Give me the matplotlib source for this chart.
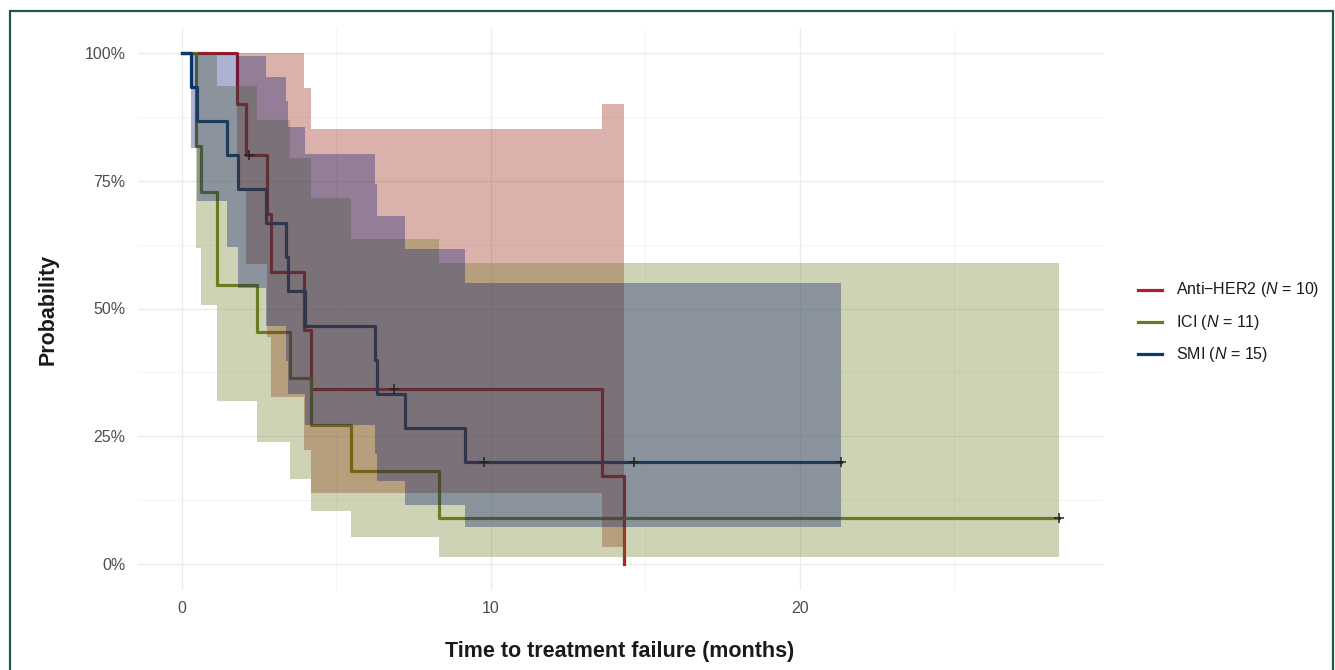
import matplotlib
matplotlib.use('Agg')
import matplotlib.pyplot as plt
from matplotlib.lines import Line2D
from matplotlib.patches import Rectangle

plt.rcParams['font.family'] = ['Liberation Sans', 'DejaVu Sans']
plt.rcParams['mathtext.fontset'] = 'custom'
plt.rcParams['mathtext.rm'] = 'Liberation Sans'
plt.rcParams['mathtext.it'] = 'Liberation Sans:italic'

# Kaplan-Meier steps (time in months, survival as fraction)
her2_t = [0, 1.78, 2.07, 2.75, 2.90, 3.95, 4.18, 13.6, 14.3]
her2_s = [1, 0.9, 0.8, 0.6857, 0.5714, 0.4571, 0.3429, 0.1714, 0]
her2_lo = [1, 0.732, 0.587, 0.445, 0.326, 0.224, 0.138, 0.033]
her2_hi = [1, 1, 1, 1, 1, 0.932, 0.852, 0.900]
her2_cens_t = [2.17, 6.87]
her2_cens_s = [0.8, 0.3429]

ici_t = [0, 0.47, 0.63, 1.15, 2.44, 3.49, 4.19, 5.49, 8.33, 28.4]
ici_s = [1, 0.8182, 0.7273, 0.5455, 0.4545, 0.3636, 0.2727, 0.1818, 0.0909, 0.0909]
ici_lo = [1, 0.619, 0.507, 0.318, 0.238, 0.166, 0.104, 0.052, 0.014]
ici_hi = [1, 1, 1, 0.936, 0.868, 0.795, 0.716, 0.637, 0.589]
ici_cens_t = [28.4]
ici_cens_s = [0.0909]

smi_t = [0, 0.28, 0.49, 1.47, 1.83, 2.73, 3.38, 3.45, 4.0, 6.26, 6.31, 7.22, 9.16, 21.33]
smi_s = [1, 0.9333, 0.8667, 0.8, 0.7333, 0.6667, 0.6, 0.5333, 0.4667, 0.4, 0.3333,
         0.2667, 0.2, 0.2]
smi_lo = [1, 0.815, 0.711, 0.621, 0.540, 0.466, 0.397, 0.332, 0.272, 0.215, 0.163,
          0.115, 0.073]
smi_hi = [1, 1, 1, 1, 0.995, 0.954, 0.907, 0.856, 0.802, 0.743, 0.682, 0.617, 0.550]
smi_cens_t = [9.79, 14.65, 21.33]
smi_cens_s = [0.2, 0.2, 0.2]

labels = [r'Anti−HER2 ($\mathit{N}$ = 10)', r'ICI ($\mathit{N}$ = 11)',
          r'SMI ($\mathit{N}$ = 15)']
line_colors = ['#B01E28', '#6B7C20', '#0B3B6E']
fill_colors = ['#941400', '#6B7C20', '#05166F']

groups = [
    (her2_t, her2_s, her2_lo, her2_hi, her2_cens_t, her2_cens_s),
    (ici_t, ici_s, ici_lo, ici_hi, ici_cens_t, ici_cens_s),
    (smi_t, smi_s, smi_lo, smi_hi, smi_cens_t, smi_cens_s),
]

fig = plt.figure(figsize=(13.35, 6.7), dpi=100)
ax = fig.add_axes([138 / 1335, (670 - 589.5) / 670, (1103 - 138) / 1335, 562 / 670])

# lines first, bands on top of them (as in the original)
for (t, s, lo, hi, ct, cs), col in zip(groups, line_colors):
    ax.step(t, s, where='post', color=col, lw=2.3, zorder=2)
for (t, s, lo, hi, ct, cs), col in zip(groups, fill_colors):
    ax.fill_between(t, lo + [lo[-1]], hi + [hi[-1]], step='post', color=col,
                    alpha=0.33, lw=0, zorder=3)
for (t, s, lo, hi, ct, cs) in groups:
    ax.plot(ct, cs, ls='none', marker='+', ms=7, mew=1.1, color='#222222', zorder=4)

ax.set_xlim(-1.42, 29.82)
ax.set_ylim(-0.05, 1.05)
ax.set_xticks([0, 10, 20])
ax.set_xticks([5, 15, 25], minor=True)
ax.set_yticks([0, 0.25, 0.5, 0.75, 1.0])
ax.set_yticks([0.125, 0.375, 0.625, 0.875], minor=True)
ax.set_yticklabels(['0%', '25%', '50%', '75%', '100%'])
ax.grid(which='major', color='#EBEBEB', lw=1.0, zorder=0)
ax.grid(which='minor', color='#F2F2F2', lw=0.6, zorder=0)
ax.set_axisbelow(True)
for sp in ax.spines.values():
    sp.set_visible(False)
ax.tick_params(which='both', length=0, labelsize=11.5, labelcolor='#4D4D4D')
ax.tick_params(axis='x', pad=8)
ax.tick_params(axis='y', pad=9)

fig.text(620 / 1335, 1 - 651 / 670, 'Time to treatment failure (months)',
         ha='center', va='center', fontsize=15.5, fontweight='bold', color='#1A1A1A')
fig.text(48 / 1335, 1 - 309 / 670, 'Probability', rotation=90, ha='center',
         va='center', fontsize=15.5, fontweight='bold', color='#1A1A1A')

# legend
for i, (lab, col) in enumerate(zip(labels, line_colors)):
    yy = 1 - (290 + 32 * i) / 670
    fig.add_artist(Line2D([1138 / 1335, 1162 / 1335], [yy, yy], color=col, lw=2.3))
    fig.text(1176 / 1335, yy, lab, ha='left', va='center', fontsize=11.5,
             color='#1A1A1A')

# dark green frame
fig.add_artist(Rectangle((10 / 1335, -0.1), 1323 / 1335, 1.1 - 11 / 670,
                         transform=fig.transFigure, fill=False,
                         edgecolor='#1E5A3C', lw=1.6))

fig.savefig('out.png', dpi=100)
